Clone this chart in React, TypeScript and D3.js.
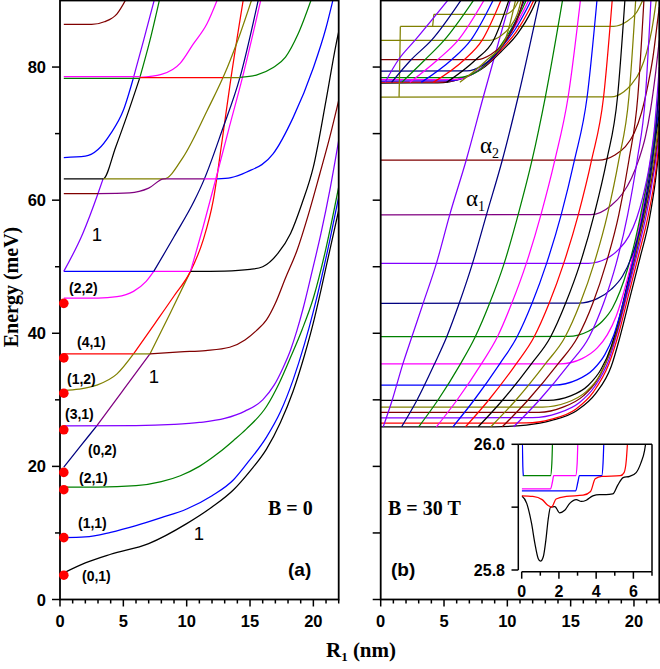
import React from 'react';
import * as d3 from 'd3';

const COL: Record<string, string> = {
  k: '#000000', r: '#ff0000', b: '#0000ff', m: '#ff00ff', g: '#008000',
  o: '#808000', w: '#800000', v: '#8000ff', n: '#000080', p: '#800080',
};

// ---------- panel (a), B = 0 : pieces of energy curves, [R1 nm, E meV] ----------
const aCurves: number[][][] = [
  [[0.3, 4.0], [2, 5.5], [4, 6.8], [7, 8.4], [10, 11.4], [12, 13.9], [13.7, 16.5], [15, 19.3], [16.3, 22.6], [17.4, 26.6], [18.4, 31.3], [19.3, 36.7], [20, 41.6], [20.6, 46.5], [21.3, 52.5], [22, 58.5]],
  [[0.3, 9.3], [2, 9.4], [4, 10.1], [6, 11.1], [8, 12.3], [10, 13.6], [12, 15.6], [13.7, 18], [14.7, 20.3], [16.3, 24.4], [17.4, 28.2], [18.4, 33], [19.3, 38.4], [20, 43.3], [20.6, 48], [21.3, 54], [22, 60.5]],
  [[0.3, 16.9], [3, 16.9], [6, 17.1], [8, 17.7], [9.5, 18.6], [11, 20], [12.5, 22], [13.7, 23.9], [14.7, 25.6], [16.3, 29], [17.3, 32.5], [18.2, 36.4], [19.1, 40.5], [20, 45.3], [21, 52.8], [22, 62]],
  [[0.3, 19.9], [1.6, 23], [2.9, 26.1]],
  [[0.3, 26.1], [6, 26.12], [9, 26.3], [11, 26.6], [13, 27.2], [14.6, 28.3], [16, 30], [16.9, 32.2], [17.6, 34.8], [18.2, 37.5], [18.7, 40.4], [19.2, 43.8], [19.9, 49.3], [20.6, 55], [21.3, 61.5], [22, 69]],
  [[2.9, 26.1], [5, 31.5], [7.1, 36.9]],
  [[7.1, 36.9], [8.7, 43], [10.3, 49.3]],
  [[0.3, 31.4], [1.5, 31.6], [2.9, 32.2], [4.5, 33.9], [5.8, 36.9]],
  [[5.8, 36.9], [7.5, 41.5], [9, 45.6], [10.3, 49.3], [11.3, 54], [12.1, 60], [12.8, 69], [13.5, 78.4], [14.5, 90.5]],
  [[0.3, 36.9], [5.8, 36.9]],
  [[5.8, 36.9], [7.1, 36.9]],
  [[7.1, 36.9], [9.5, 37.2], [11.5, 37.4], [13.4, 37.9], [14.6, 39], [15.5, 40.4], [16.3, 42], [17, 44.5], [17.8, 48.3], [18.7, 52.4], [19.6, 57.8], [20.5, 63.9], [21.3, 69.5], [22, 75]],
  [[0.3, 45.3], [3, 45.3], [4.5, 45.5], [5.8, 46.3], [6.8, 47.8], [7.4, 49.3]],
  [[7.4, 49.3], [10.3, 49.3]],
  [[10.3, 49.3], [11.3, 56], [12.3, 63.2], [13.3, 70.5], [14.4, 78.4], [15.9, 90.5]],
  [[0.3, 49.3], [7.4, 49.3]],
  [[7.4, 49.3], [9, 54.5], [10.6, 59.9], [11.4, 63.2], [12.8, 70.5], [14.2, 78.4], [15.7, 90.5]],
  [[10.3, 49.3], [13, 49.35], [15, 49.6], [16, 50], [17.2, 52], [18.2, 55], [19.1, 59.5], [20, 65], [21, 75], [21.8, 83.5], [22.2, 87]],
  [[0.3, 49.3], [1.8, 55], [3.0, 61], [3.4, 63.2]],
  [[0.3, 63.2], [3.4, 63.2], [4.4, 68], [5.4, 73.3], [6.3, 78.4]],
  [[6.3, 78.4], [7.1, 84], [7.9, 90.5]],
  [[3.4, 63.2], [8.2, 63.2], [9.7, 66.4], [11.6, 73.4], [13.2, 79.9], [14.2, 84.9], [15.2, 90.5]],
  [[0.3, 61], [3.0, 61]],
  [[3.0, 61], [5.5, 61.1], [7, 61.8], [8.2, 63.2], [11.4, 63.2]],
  [[11.4, 63.2], [12.4, 63.2]],
  [[12.4, 63.2], [13.5, 63.4], [14.7, 64.2], [16.8, 66.9], [18.4, 72.4], [20, 79.9], [21, 85.9], [21.6, 90.5]],
  [[0.3, 66.4], [2, 66.6], [3, 67.6], [4, 70], [5, 73.5], [5.8, 78.4]],
  [[5.8, 78.4], [6.6, 84], [7.5, 90.5]],
  [[0.3, 78.55], [6.3, 78.55]],
  [[0.3, 78.3], [6.3, 78.3]],
  [[6.3, 78.45], [8, 78.9], [9.5, 80.6], [10.5, 83.4], [11.6, 86.5], [12.5, 90.5]],
  [[6.3, 78.4], [12.9, 78.4]],
  [[12.9, 78.4], [14.2, 78.4]],
  [[14.2, 78.45], [15.5, 78.8], [16.8, 79.9], [17.8, 81.5], [18.8, 85], [19.9, 90.5]],
  [[0.3, 86.4], [2.5, 86.4], [3.5, 86.8], [4.5, 88], [5.3, 90.5]],
];
const aCurveColors = ['k', 'b', 'g', 'n', 'v', 'p', 'o', 'o', 'r', 'r', 'o', 'w', 'm', 'm', 'm', 'b', 'n', 'k', 'v', 'k', 'g', 'o', 'w', 'p', 'm', 'b', 'b', 'v', 'm', 'g', 'm', 'r', 'o', 'g', 'w'];

const aDotsE = [3.65, 9.3, 16.5, 19.1, 25.5, 31.0, 36.3, 44.5];
const aStates = ['(0,1)', '(1,1)', '(2,1)', '(0,2)', '(3,1)', '(1,2)', '(4,1)', '(2,2)'];
const aStatePos = [[82, 581], [78, 528], [79, 483], [88, 455], [65, 419], [67, 384], [77, 347], [69, 293]];

// ---------- panel (b), B = 30 T ----------
// flat (dot-like) levels that bend up into the right-hand bundle
const bLevels: number[][][] = [
  [[0, 25.92], [9, 25.95], [11.5, 26.2], [13.5, 26.9], [15.5, 28.4], [17, 31], [18.2, 35], [18.9, 39.5], [19.7, 45.5], [20.5, 51.5], [21.2, 57], [21.7, 63], [22, 68]],
  [[0, 26.5], [11.5, 26.52], [13.5, 27.1], [15.4, 28.6], [16.8, 31.2], [18, 35.3], [18.8, 40], [19.6, 46], [20.4, 52], [21.1, 57.5], [21.7, 64], [22, 69]],
  [[0, 27.3], [12, 27.32], [14, 28], [15.7, 29.6], [16.9, 32], [18, 35.9], [18.7, 40.2], [19.5, 46.2], [20.3, 52.3], [21, 58], [21.6, 64.5], [22, 70]],
  [[0, 28.1], [12.5, 28.12], [14.4, 28.9], [16, 30.6], [17.1, 33], [18, 36.6], [18.7, 40.6], [19.4, 46], [20.2, 52.3], [20.9, 58.2], [21.6, 65.5], [22, 71]],
  [[0, 28.9], [12.8, 28.92], [14.7, 29.6], [16.2, 31.2], [17.3, 33.7], [18.1, 37.2], [18.7, 41], [19.4, 46.5], [20.2, 52.8], [20.9, 58.8], [21.6, 66.5], [22, 72]],
  [[0, 29.9], [13.2, 29.92], [15, 30.6], [16.4, 32.2], [17.4, 34.6], [18.2, 38], [18.8, 42], [19.4, 46.8], [20.1, 52.8], [20.8, 59], [21.5, 67], [22, 73]],
  [[0, 32.2], [13.7, 32.22], [15.5, 33], [16.8, 34.6], [17.7, 36.8], [18.4, 39.7], [19, 43.5], [19.6, 48], [20.2, 53.3], [20.8, 59.5], [21.5, 67.8], [22, 74]],
  [[0, 35.4], [14.2, 35.42], [15.9, 36.2], [17.1, 37.8], [17.9, 39.8], [18.6, 42.6], [19.2, 46.2], [19.8, 50.6], [20.3, 55], [20.9, 61], [21.5, 68.5], [22, 75.5]],
  [[0, 39.5], [14.8, 39.52], [16.4, 40.3], [17.5, 41.8], [18.3, 43.8], [18.9, 46.3], [19.5, 49.7], [20.1, 54], [20.6, 58.5], [21.2, 64.5], [21.7, 71], [22, 77]],
  [[0, 44.5], [15.6, 44.52], [17.1, 45.2], [18.2, 46.6], [19.1, 48.6], [19.8, 51.4], [20.4, 55], [20.9, 59.3], [21.4, 65], [21.8, 72], [22, 78.5]],
  [[0, 50.5], [16.4, 50.52], [17.8, 51.2], [18.8, 52.6], [19.6, 54.6], [20.2, 57.2], [20.7, 60.5], [21.2, 65], [21.6, 70.5], [22, 80]],
  [[0, 57.8], [16.6, 57.82], [18.2, 59.2], [19.1, 61], [19.8, 63.3], [20.4, 66.2], [20.9, 69.5], [21.3, 73.5], [21.7, 79], [22, 84]],
  [[0, 66], [17.2, 66.02], [18.5, 66.8], [19.3, 68], [20, 70], [20.6, 73.2], [21.1, 77.3], [21.5, 81.5], [21.9, 87.5], [22, 89]],
  [[0, 75.5], [18.2, 75.52], [19.2, 76.3], [19.8, 77.4], [20.5, 79.5], [21, 82.2], [21.4, 85.5], [21.8, 90.5]],
  [[1.55, 86.1], [18.4, 86.12], [19.4, 86.8], [20.2, 88.2], [20.8, 90.5]],
];
const bLevelColors = ['k', 'r', 'v', 'w', 'o', 'k', 'b', 'm', 'g', 'n', 'v', 'p', 'w', 'o', 'o'];

// rising (ring-like) states: R1 where each crosses the energies in bDiagE
const bDiagE = [25.95, 29.9, 35.4, 39.4, 44.5, 50.5, 57.8, 66.0, 75.5, 90.5];
const bDiagX = [
  [0.2, 0.9, 1.75, 2.45, 3.35, 4.4, 5.45, 6.75, 8.1, 10.3],
  [1.65, 2.85, 4.25, 5.2, 6.2, 7.25, 8.35, 9.6, 10.85, 12.6],
  [3.0, 4.5, 6.3, 7.45, 8.6, 9.75, 10.85, 11.95, 13.0, 14.4],
  [4.4, 6.0, 7.95, 9.2, 10.35, 11.5, 12.65, 13.75, 14.8, 15.8],
  [5.7, 7.35, 9.4, 10.75, 11.95, 13.1, 14.25, 15.3, 16.3, 17.1],
  [6.7, 8.5, 10.7, 12.1, 13.3, 14.45, 15.6, 16.65, 17.6, 18.3],
  [7.7, 9.6, 11.9, 13.4, 14.6, 15.75, 16.85, 17.85, 18.7, 19.3],
  [8.7, 10.65, 13.0, 14.55, 15.75, 16.85, 17.9, 18.8, 19.6, 20.15],
  [9.6, 11.6, 14.0, 15.55, 16.75, 17.8, 18.8, 19.6, 20.3, 20.8],
  [10.5, 12.5, 14.9, 16.45, 17.6, 18.6, 19.5, 20.25, 20.9, 21.35],
];
const bDiagColors = ['v', 'n', 'g', 'm', 'b', 'r', 'k', 'o', 'w', 'v'];

// second family starting near 78 meV
const bUpperLevels: number[][][] = [
  [[0, 77.6], [4.5, 77.62], [6.4, 78.3], [8.2, 80], [9.5, 82.3], [10.8, 85], [11.9, 88.4], [12.4, 90.5]],
  [[0, 77.75], [4.9, 77.77], [6.7, 78.5], [8.3, 80.3], [9.5, 82.6], [10.7, 85.3], [11.7, 88.5], [12.2, 90.5]],
  [[0, 77.9], [5.3, 77.92], [7, 78.7], [8.4, 80.6], [9.5, 82.9], [10.6, 85.6], [11.5, 88.6], [12, 90.5]],
  [[0, 78.1], [5.7, 78.12], [7.2, 78.9], [8.5, 80.8], [9.5, 83.1], [10.5, 85.8], [11.35, 88.7], [11.8, 90.5]],
  [[0, 78.4], [6.1, 78.42], [7.5, 79.2], [8.6, 81], [9.5, 83.3], [10.4, 86], [11.2, 88.8], [11.6, 90.5]],
  [[0, 79.4], [6.8, 79.42], [8, 80.2], [9, 81.7], [9.8, 83.7], [10.5, 86.2], [11.1, 88.9], [11.45, 90.5]],
  [[0, 81.1], [7.6, 81.12], [8.7, 81.9], [9.6, 83.3], [10.3, 85.2], [10.9, 87.7], [11.3, 90.5]],
  [[0, 84], [8.6, 84.02], [9.5, 84.7], [10.2, 86], [10.8, 88], [11.15, 90.5]],
  [[1.45, 75.52], [1.5, 80], [1.55, 86.1]],
  [[4.1, 86.1], [4.15, 87], [4.2, 87.9], [9.8, 87.92], [10.5, 88.7], [11, 90.5]],
];
const bUpperLevelColors = ['k', 'r', 'b', 'm', 'g', 'n', 'w', 'o', 'o', 'o'];

const bUpperDiagE = [77.7, 81.1, 84.0, 90.5];
const bUpperDiagX = [
  [0.34, 1.4, 2.7, 5.5],
  [0.86, 2.4, 4.0, 6.5],
  [1.66, 3.5, 5.0, 7.5],
  [2.3, 4.5, 6.1, 8.3],
  [3.2, 5.6, 7.1, 9.0],
  [4.15, 6.6, 8.0, 9.6],
  [5.2, 7.5, 8.9, 10.2],
  [6.25, 8.4, 9.8, 10.7],
];
const bUpperDiagColors = ['v', 'n', 'g', 'm', 'b', 'r', 'k', 'o'];

// ---------- inset: lowest states, 25.8 - 26.0 meV ----------
const insetCurves: number[][][] = [
  [[0, 25.918], [0.27, 25.906], [0.53, 25.874], [0.71, 25.842], [0.89, 25.818], [1.01, 25.814], [1.16, 25.821], [1.3, 25.848], [1.42, 25.88], [1.55, 25.9], [1.78, 25.901], [2.04, 25.891], [2.31, 25.895], [2.58, 25.906], [2.93, 25.912], [3.2, 25.909], [3.47, 25.911], [3.82, 25.918], [4.18, 25.92], [4.53, 25.92], [4.89, 25.921], [5.16, 25.935], [5.45, 25.947], [5.8, 25.949], [6.15, 25.955], [6.4, 25.97], [6.6, 25.99], [6.7, 26.01]],
  [[0, 25.918], [0.6, 25.917], [1.1, 25.912], [1.4, 25.903], [1.6, 25.9], [1.85, 25.913], [2.4, 25.917], [3.3, 25.919], [3.7, 25.925], [3.95, 25.945], [4.3, 25.949], [5.3, 25.95], [5.5, 25.955], [5.62, 25.975], [5.7, 26.01]],
  [[0, 25.926], [2.9, 25.926], [3.02, 25.94], [3.1, 25.95], [4.3, 25.95], [4.37, 25.97], [4.42, 26.01]],
  [[0, 25.929], [1.55, 25.929], [1.65, 25.94], [1.72, 25.95], [2.9, 25.95], [2.98, 25.97], [3.02, 26.01]],
  [[0.06, 25.95], [1.55, 25.95], [1.62, 25.97], [1.66, 26.01]],
  [[0.03, 26.01], [0.06, 25.965], [0.09, 25.95]],
];
const insetColors = ['k', 'r', 'b', 'm', 'g', 'b'];

const xMajor = [0, 5, 10, 15, 20];
const yMajor = [0, 20, 40, 60, 80];
const insetXLabels = [0, 2, 4, 6];
const insetYLabels = [25.8, 26.0];

const SANS = 'Liberation Sans, Arial, sans-serif';
const SERIF = 'Liberation Serif, Times New Roman, serif';

export default function App() {
  const top = 0.5, bottom = 599.5;
  const y = d3.scaleLinear().domain([0, 90]).range([bottom, top]);
  const xa = d3.scaleLinear().domain([0, 22]).range([60, 338.7]);
  const xb = d3.scaleLinear().domain([0, 22]).range([380.7, 659.3]);
  const ix = d3.scaleLinear().domain([0, 7]).range([521.7, 652]);
  const iy = d3.scaleLinear().domain([25.8, 26.0]).range([570, 444.3]);

  const lineA = d3.line<number[]>().x(d => xa(d[0])).y(d => y(d[1])).curve(d3.curveMonotoneX);
  const lineB = d3.line<number[]>().x(d => xb(d[0])).y(d => y(d[1])).curve(d3.curveMonotoneX);
  const lineI = d3.line<number[]>().x(d => ix(d[0])).y(d => iy(d[1])).curve(d3.curveMonotoneX);

  const sw = 1.25;
  const minorX = d3.range(0, 23, 1);
  const tensY = d3.range(0, 81, 10);

  const frame = (xs: d3.ScaleLinear<number, number>, labelsY: boolean) => {
    const [l, r] = xs.range();
    return (
      <g>
        <rect x={l} y={top} width={r - l} height={bottom - top} fill="none" stroke="#000" strokeWidth={1.8} />
        {minorX.map(t => (
          <line key={'xt' + t} x1={xs(t)} x2={xs(t)} y1={bottom} y2={bottom + (t % 5 === 0 ? 7 : 4)} stroke="#000" strokeWidth={1.5} />
        ))}
        {tensY.map(t => (
          <line key={'yt' + t} x1={l} x2={l - (labelsY ? (t % 20 === 0 ? 8 : 5) : 8)} y1={y(t)} y2={y(t)} stroke="#000" strokeWidth={1.5} />
        ))}
        {xMajor.map(t => (
          <text key={'xl' + t} x={xs(t)} y={627} textAnchor="middle" fontFamily={SANS} fontWeight="bold" fontSize={16.5}>{t}</text>
        ))}
        {labelsY && yMajor.map(t => (
          <text key={'yl' + t} x={46} y={y(t) + 6} textAnchor="end" fontFamily={SANS} fontWeight="bold" fontSize={16.5}>{t}</text>
        ))}
      </g>
    );
  };

  return (
    <svg width={660} height={669} style={{ position: 'absolute', left: 0, top: 0, background: '#fff' }}>
      <defs>
        <clipPath id="clipA"><rect x={xa(0)} y={top} width={xa(22) - xa(0)} height={bottom - top} /></clipPath>
        <clipPath id="clipB"><rect x={xb(0)} y={top} width={xb(22) - xb(0)} height={bottom - top} /></clipPath>
        <clipPath id="clipI"><rect x={ix(0)} y={iy(26.0)} width={ix(7) - ix(0)} height={iy(25.8) - iy(26.0)} /></clipPath>
      </defs>
      <rect x={0} y={0} width={660} height={669} fill="#fff" />

      {/* panel (a) */}
      <g clipPath="url(#clipA)" fill="none" strokeWidth={sw}>
        {aCurves.map((c, i) => <path key={i} d={lineA(c) || ''} stroke={COL[aCurveColors[i]]} />)}
      </g>
      {frame(xa, true)}
      {aDotsE.map((e, i) => <circle key={i} cx={xa(0.3)} cy={y(e)} r={4.8} fill="#ff0000" />)}
      {aStates.map((s, i) => (
        <text key={s} x={aStatePos[i][0]} y={aStatePos[i][1]} fontFamily={SANS} fontWeight="bold" fontSize={14}>{s}</text>
      ))}
      <text x={199} y={540} textAnchor="middle" fontFamily={SANS} fontSize={18.5}>1</text>
      <text x={154} y={383} textAnchor="middle" fontFamily={SANS} fontSize={18.5}>1</text>
      <text x={97} y={241} textAnchor="middle" fontFamily={SANS} fontSize={18.5}>1</text>
      <text x={268} y={515} fontFamily={SERIF} fontWeight="bold" fontSize={20}>B = 0</text>
      <text x={288} y={576} fontFamily={SANS} fontWeight="bold" fontSize={19}>(a)</text>

      {/* panel (b) */}
      <g clipPath="url(#clipB)" fill="none" strokeWidth={sw}>
        {bLevels.map((c, i) => <path key={'l' + i} d={lineB(c) || ''} stroke={COL[bLevelColors[i]]} />)}
        {bDiagX.map((row, i) => (
          <path key={'d' + i} d={lineB(row.map((xv, j) => [xv, bDiagE[j]])) || ''} stroke={COL[bDiagColors[i]]} />
        ))}
        {bUpperLevels.map((c, i) => <path key={'u' + i} d={lineB(c) || ''} stroke={COL[bUpperLevelColors[i]]} />)}
        {bUpperDiagX.map((row, i) => (
          <path key={'ud' + i} d={lineB(row.map((xv, j) => [xv, bUpperDiagE[j]])) || ''} stroke={COL[bUpperDiagColors[i]]} />
        ))}
      </g>
      {frame(xb, false)}
      <text x={480} y={153} fontFamily={SERIF} fontSize={23}>α<tspan fontSize={14} dy={5}>2</tspan></text>
      <text x={466} y={206} fontFamily={SERIF} fontSize={23}>α<tspan fontSize={14} dy={5}>1</tspan></text>
      <text x={388} y={515} fontFamily={SERIF} fontWeight="bold" fontSize={20}>B = 30 T</text>
      <text x={391} y={576} fontFamily={SANS} fontWeight="bold" fontSize={19}>(b)</text>

      {/* inset */}
      <rect x={518.3} y={444.3} width={652 - 518.3} height={571.7 - 444.3} fill="#fff" />
      <g clipPath="url(#clipI)" fill="none" strokeWidth={sw}>
        {insetCurves.map((c, i) => <path key={i} d={lineI(c) || ''} stroke={COL[insetColors[i]]} />)}
      </g>
      <g stroke="#000" strokeWidth={1.5}>
        <line x1={518.3} x2={518.3} y1={444.3} y2={570} />
        <line x1={521.7} x2={652} y1={571.7} y2={571.7} />
        <line x1={518.3} x2={652} y1={444.3} y2={444.3} />
        <line x1={652} x2={652} y1={444.3} y2={571.7} />
        {[25.8, 25.9, 26.0].map(t => <line key={t} x1={518.3} x2={511.5} y1={iy(t)} y2={iy(t)} />)}
        {d3.range(0, 8).map(t => <line key={t} x1={ix(t)} x2={ix(t)} y1={571.7} y2={571.7 + (t % 2 === 0 ? 7 : 4)} />)}
      </g>
      {insetYLabels.map(t => (
        <text key={t} x={505} y={iy(t) + 6} textAnchor="end" fontFamily={SANS} fontWeight="bold" fontSize={16}>{t.toFixed(1)}</text>
      ))}
      {insetXLabels.map(t => (
        <text key={t} x={ix(t)} y={597} textAnchor="middle" fontFamily={SANS} fontWeight="bold" fontSize={16}>{t}</text>
      ))}

      {/* axis titles */}
      <text transform="translate(18,287) rotate(-90)" textAnchor="middle" fontFamily={SERIF} fontWeight="bold" fontSize={20}>Energy (meV)</text>
      <text x={361} y={657} textAnchor="middle" fontFamily={SERIF} fontWeight="bold" fontSize={21}>
        R<tspan fontSize={13} dy={4}>1</tspan><tspan dy={-4}> (nm)</tspan>
      </text>
    </svg>
  );
}
